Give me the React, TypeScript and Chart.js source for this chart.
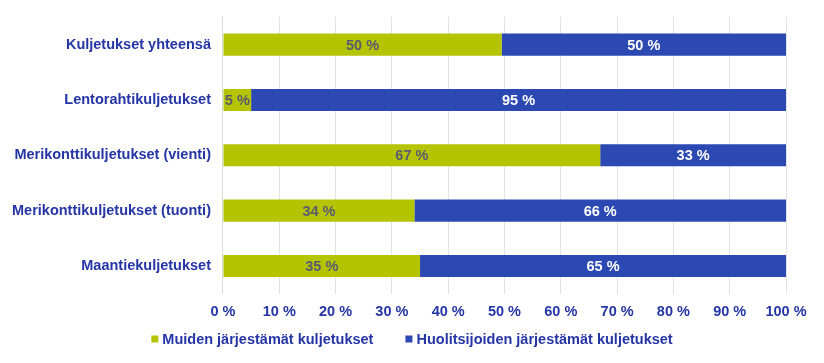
import React, { useEffect, useRef } from "react";
import { Chart, registerables } from "chart.js";

Chart.register(...registerables);

const categories = [
  "Kuljetukset yhteensä",
  "Lentorahtikuljetukset",
  "Merikonttikuljetukset (vienti)",
  "Merikonttikuljetukset (tuonti)",
  "Maantiekuljetukset",
];
const seriesNames = ["Muiden järjestämät kuljetukset", "Huolitsijoiden järjestämät kuljetukset"];
const muiden = [49.5, 5, 67, 34, 35];
const huolitsijoiden = [50.5, 95, 33, 66, 65];
const muidenLabels = ["50 %", "5 %", "67 %", "34 %", "35 %"];
const huolitsijoidenLabels = ["50 %", "95 %", "33 %", "66 %", "65 %"];

const GREEN = "#b5c400";
const BLUE = "#2b48b3";
const TEXT = "#2535a5";
const FONT = "'Liberation Sans', Arial, sans-serif";
const FS = 14.5;

const labelPlugin = {
  id: "segLabels",
  afterDatasetsDraw(chart: any) {
    const ctx = chart.ctx;
    const labelSets = [muidenLabels, huolitsijoidenLabels];
    const colors = ["#5a5b6e", "#ffffff"];
    ctx.save();
    ctx.font = `bold ${FS}px ${FONT}`;
    ctx.textAlign = "center";
    ctx.textBaseline = "middle";
    chart.data.datasets.forEach((_: any, di: number) => {
      const meta = chart.getDatasetMeta(di);
      meta.data.forEach((bar: any, i: number) => {
        const left = Math.min(bar.base, bar.x);
        const right = Math.max(bar.base, bar.x);
        ctx.fillStyle = colors[di];
        ctx.fillText(labelSets[di][i], (left + right) / 2, bar.y + 1);
      });
    });
    ctx.restore();
  },
};

const legendPlugin = {
  id: "customLegend",
  afterDraw(chart: any) {
    const ctx = chart.ctx;
    ctx.save();
    ctx.font = `bold ${FS}px ${FONT}`;
    ctx.textBaseline = "middle";
    ctx.textAlign = "left";
    const box = 7;
    const gap = 4;
    const between = 32;
    const items = chart.data.datasets.map((d: any) => ({
      text: d.label,
      color: d.backgroundColor,
      w: box + gap + ctx.measureText(d.label).width,
    }));
    const total = items.reduce((s: number, it: any) => s + it.w, 0) + between * (items.length - 1);
    let x = (chart.width - total) / 2;
    const y = 339;
    items.forEach((it: any) => {
      ctx.fillStyle = it.color;
      ctx.fillRect(x, y - box / 2, box, box);
      ctx.fillStyle = TEXT;
      ctx.fillText(it.text, x + box + gap, y + 1);
      x += it.w + between;
    });
    ctx.restore();
  },
};

export default function App() {
  const ref = useRef<HTMLCanvasElement>(null);
  useEffect(() => {
    document.body.style.margin = "0";
    const chart = new Chart(ref.current!, {
      type: "bar",
      data: {
        labels: categories,
        datasets: [
          {
            label: seriesNames[0],
            data: muiden,
            backgroundColor: GREEN,
            barPercentage: 0.4,
            categoryPercentage: 1,
          },
          {
            label: seriesNames[1],
            data: huolitsijoiden,
            backgroundColor: BLUE,
            barPercentage: 0.4,
            categoryPercentage: 1,
          },
        ],
      },
      options: {
        indexAxis: "y",
        animation: false,
        responsive: false,
        layout: { padding: { top: 17, right: 38, left: 0, bottom: 32 } },
        scales: {
          x: {
            stacked: true,
            min: 0,
            max: 100,
            ticks: {
              stepSize: 10,
              color: TEXT,
              font: { family: FONT, size: FS, weight: "bold" },
              callback: (v: any) => `${v} %`,
              padding: 10,
              maxRotation: 0,
            },
            grid: { color: "#e3e3e3", drawTicks: false, lineWidth: 1 },
            border: { display: false },
          },
          y: {
            stacked: true,
            afterFit: (scale: any) => {
              scale.paddingTop = 0;
              scale.paddingBottom = 0;
            },
            ticks: {
              color: TEXT,
              font: { family: FONT, size: FS, weight: "bold" },
              padding: 12,
            },
            grid: { display: false, drawTicks: false },
            border: { display: true, color: "#d9d9d9" },
          },
        },
        plugins: {
          legend: { display: false },
          tooltip: { enabled: false },
        },
      },
      plugins: [labelPlugin, legendPlugin],
    });
    return () => chart.destroy();
  }, []);
  return (
    <div style={{ width: 824, height: 363, background: "#fff" }}>
      <canvas ref={ref} width={824} height={363} />
    </div>
  );
}
